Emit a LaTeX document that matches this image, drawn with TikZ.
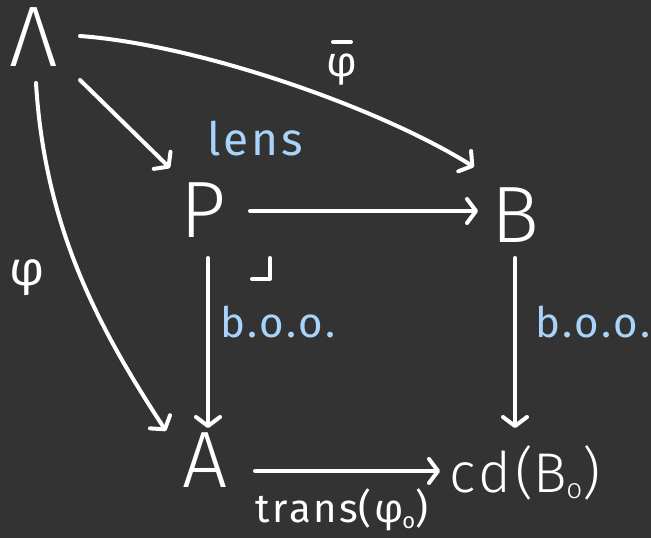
\documentclass[tikz,border=0pt]{standalone}
\usepackage{fontspec}
\setmainfont{Fira Sans}[UprightFont=* Light]
\newfontfamily\labfont{Fira Sans}[LetterSpace=6]
\usetikzlibrary{arrows.meta}
\definecolor{bg}{HTML}{333333}
\definecolor{lbl}{HTML}{A8D3FA}
\tikzset{
  obj/.style={text=white, inner sep=0pt, anchor=base, font=\fontsize{80}{80}\selectfont},
  bluelab/.style={text=lbl, inner sep=0pt, anchor=base, font=\labfont\fontsize{42}{42}\selectfont},
  whitelab/.style={text=white, inner sep=0pt, anchor=base, font=\labfont\fontsize{42}{42}\selectfont},
  arr/.style={draw=white, line width=4pt, line cap=round, line join=round,
    -{Straight Barb[length=9pt,width=24pt,line width=4pt,round]}},
  strk/.style={draw=white, line width=4pt, line cap=round, line join=round}
}
\begin{document}
\begin{tikzpicture}[x=1pt,y=-1pt]
\fill[bg] (0,0) rectangle (651,538);
\useasboundingbox (0,0) rectangle (651,538);
\node[obj, font=\fontsize{86}{86}\selectfont] (L) at (34,66) {Λ};
\node[obj] (P) at (203,237) {P};
\node[obj] (B) at (515,242) {B};
\node[obj] (A) at (205,487) {A};
\node[obj, font=\fontsize{56}{56}\selectfont] (C) at (525,492) {c\kern3pt d\kern4pt(B\kern-1pt\raisebox{-6pt}{\fontsize{28}{28}\selectfont o})};
\node[bluelab, font=\labfont\fontsize{46}{46}\selectfont] (lens) at (255,155) {lens};
\node[bluelab] (boo1) at (278,337) {b.o.o.};
\node[bluelab] (boo2) at (593,337) {b.o.o.};
\node[whitelab, font=\labfont\fontsize{48}{48}\selectfont] (phi) at (27,285) {φ};
\node[whitelab] (phib) at (342,76) {φ};
\draw[strk] ([shift={(-9,-34)}]phib.base) -- ([shift={(9,-34)}]phib.base);
\node[whitelab, font=\labfont\fontsize{40}{40}\selectfont] (trans) at (342,522) {trans\kern1pt(φ\kern-1pt\raisebox{-6pt}{\fontsize{22}{22}\selectfont o})};
% connectors
\draw[arr] ([shift={(46,14)}]L.base) -- ([shift={(-33,-69)}]P.base);
\draw[arr] ([shift={(46,-30)}]L.base) .. controls (200,45) and (380,108) .. ([shift={(-41,-75)}]B.base);
\draw[arr] ([shift={(2,17)}]L.base) .. controls (45,230) and (100,330) .. ([shift={(-39,-56)}]A.base);
\draw[arr] ([shift={(47,-26)}]P.base) -- ([shift={(-37,-31)}]B.base);
\draw[arr] ([shift={(5,21)}]P.base) -- ([shift={(3,-59)}]A.base);
\draw[arr] ([shift={(0,16)}]B.base) -- ([shift={(0,-64)}]B.base |- C.base);
\draw[arr] ([shift={(50,-16)}]A.base) -- ([shift={(-85,-21)}]C.base);
% pullback corner
\draw[strk] ([shift={(49,42)}]P.base) -- ([shift={(67,42)}]P.base) -- ([shift={(67,21)}]P.base);
\end{tikzpicture}
\end{document}
